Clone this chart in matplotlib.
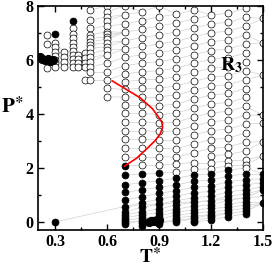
import numpy as np
import matplotlib
matplotlib.use("Agg")
import matplotlib.pyplot as plt

plt.rcParams["font.family"] = ["Liberation Serif", "DejaVu Serif"]
plt.rcParams["font.weight"] = "bold"
plt.rcParams["mathtext.fontset"] = "stix"

# isotherm columns: temperature -> pressures of the open (fluid) and filled points
open_cols = {
    0.25: [6.93, 6.59, 5.69],
    0.30: [6.64, 6.47, 6.31, 6.15, 6.0, 5.88, 5.75],
    0.35: [6.31, 6.12, 5.94, 5.75],
    0.40: [7.17, 6.96, 6.8, 6.64, 6.49, 6.34, 6.19, 6.03, 5.88, 5.73],
    0.43: [6.19, 6.03, 5.88, 5.73],
    0.47: [6.25, 6.06, 5.9, 5.73, 5.26],
    0.50: [7.85, 7.48, 7.17, 6.93, 6.8, 6.68, 6.56, 6.43, 6.25, 6.1, 5.94, 5.75, 5.57, 5.26],
    0.60: [8.0, 7.79, 7.6, 7.46, 7.26, 7.05, 6.95, 6.86, 6.77, 6.64, 6.49, 6.37, 6.19,
           5.88, 5.57, 5.26, 4.95, 4.64],
    0.70: [8.0, 7.67, 7.33, 7.02, 6.71, 6.4, 6.1, 5.79, 5.48, 5.2, 4.91, 4.62, 4.33,
           4.03, 3.71, 3.38, 3.06, 2.75, 2.42],
    0.80: [7.79, 7.46, 7.14, 6.83, 6.5, 6.19, 5.88, 5.57, 5.26, 4.95, 4.64, 4.33, 4.03,
           3.71, 3.38, 3.06, 2.75, 2.42, 2.11],
    0.90: [8.0, 7.6, 7.26, 6.93, 6.59, 6.27, 5.94, 5.6, 5.29, 4.95, 4.64, 4.3, 3.96,
           3.66, 3.35, 3.04, 2.73, 2.42, 2.11],
    1.00: [7.7, 7.37, 7.04, 6.7, 6.37, 6.04, 5.7, 5.37, 5.04, 4.7, 4.37, 4.04, 3.7,
           3.37, 3.04, 2.7, 2.4, 2.15, 1.86],
    1.10: [7.85, 7.52, 7.19, 6.86, 6.53, 6.2, 5.87, 5.54, 5.21, 4.88, 4.55, 4.22, 3.89,
           3.56, 3.23, 2.9, 2.57, 2.2, 1.95],
    1.20: [7.67, 7.34, 7.01, 6.68, 6.35, 6.02, 5.69, 5.36, 5.03, 4.7, 4.37, 4.04, 3.71,
           3.38, 3.05, 2.72, 2.45, 2.2, 1.97],
    1.30: [7.73, 7.4, 7.07, 6.74, 6.41, 6.08, 5.75, 5.42, 5.09, 4.76, 4.43, 4.1, 3.77,
           3.44, 3.11, 2.78, 2.5, 2.25, 2.08],
    1.40: [7.91, 7.58, 7.25, 6.92, 6.59, 6.26, 5.93, 5.6, 5.27, 4.94, 4.61, 4.28, 3.95,
           3.62, 3.29, 2.96, 2.63, 2.3, 2.11, 1.99],
    1.50: [7.54, 6.64, 5.44, 3.96, 3.66, 2.97, 2.44],
}

filled_cols = {
    0.30: [6.96, 0.0],
    0.40: [7.46],
    0.70: [2.07, 1.74, 1.37, 1.09, 0.81, 0.57, 0.38, 0.26, 0.15, 0.06, -0.02, -0.09],
    0.80: [1.78, 1.46, 1.19, 0.94, 0.71, 0.54, 0.38, 0.26, 0.14, 0.05, -0.05, -0.14],
    0.90: [1.8, 1.53, 1.28, 1.06, 0.84, 0.66, 0.48, 0.34, 0.22, 0.1, 0.0, -0.07],
    1.00: [1.62, 1.37, 1.16, 0.96, 0.79, 0.63, 0.48, 0.36, 0.25, 0.15, 0.06, -0.01],
    1.10: [1.74, 1.5, 1.28, 1.08, 0.9, 0.73, 0.58, 0.45, 0.33, 0.22, 0.13, 0.05, 0.0],
    1.20: [1.78, 1.55, 1.33, 1.13, 0.95, 0.79, 0.64, 0.5, 0.38, 0.27, 0.17, 0.07],
    1.30: [1.93, 1.7, 1.49, 1.29, 1.11, 0.95, 0.8, 0.66, 0.54, 0.43, 0.33, 0.2],
    1.40: [1.78, 1.57, 1.38, 1.2, 1.04, 0.89, 0.75, 0.62, 0.5, 0.39, 0.3],
    1.50: [1.78, 1.6, 1.45, 1.3, 1.19, 0.69],
}

# filled cluster at low T near P ~ 6 and near (0.87, 0)
cluster_T = [0.21, 0.225, 0.24, 0.255, 0.27, 0.285, 0.84, 0.855, 0.87, 0.885, 0.9]
cluster_P = [6.1, 6.05, 6.0, 6.02, 5.97, 6.0, 0.0, 0.02, 0.04, 0.06, 0.08]

# faint low-density isochore
low_T = [0.3, 0.7, 0.9, 1.2, 1.5]
low_P = [0.0, 0.57, 0.66, 0.79, 0.95]

# red boundary curve
red_T = [0.63, 0.70, 0.79, 0.86, 0.895, 0.915, 0.92, 0.905, 0.875, 0.835, 0.77, 0.70]
red_P = [5.22, 4.95, 4.6, 4.2, 3.9, 3.7, 3.5, 3.25, 3.0, 2.75, 2.36, 2.07]

fig = plt.figure(figsize=(2.73, 2.70), dpi=100)
ax = fig.add_axes([38 / 273, 40 / 270, 225 / 273, 224 / 270])

# faint isochore lines joining neighbouring isotherms
temps = sorted(set(open_cols) | set(filled_cols))
cols = {t: sorted(open_cols.get(t, []) + filled_cols.get(t, [])) for t in temps}
for t0, t1 in zip(temps[:-1], temps[1:]):
    nxt = np.array(cols[t1])
    for p in cols[t0]:
        q = nxt[np.argmin(np.abs(nxt - (p + 0.1)))]
        if abs(q - p) < 0.35:
            ax.plot([t0, t1], [p, q], color="0.82", lw=0.5, zorder=1)
ax.plot(low_T, low_P, color="0.85", lw=0.6, zorder=1)

ms = 5.0
for t, ps in open_cols.items():
    ax.plot([t] * len(ps), ps, "o", ms=ms, mfc="white", mec="black", mew=0.5,
            ls="none", zorder=2)
for t, ps in filled_cols.items():
    ax.plot([t] * len(ps), ps, "o", ms=ms, mfc="black", mec="black", mew=0.5,
            ls="none", zorder=3)
ax.plot(cluster_T, cluster_P, "o", ms=ms + 0.6, mfc="black", mec="black",
        ls="none", zorder=3)

ax.plot(red_T, red_P, color="red", lw=1.2, zorder=4)

ax.set_xlim(0.2, 1.5)
ax.set_ylim(-0.3, 8)
ax.set_xticks([0.3, 0.6, 0.9, 1.2, 1.5])
ax.set_xticks([0.45, 0.75, 1.05, 1.35], minor=True)
ax.set_yticks([0, 2, 4, 6, 8])
ax.set_yticks([1, 3, 5, 7], minor=True)
ax.set_xticklabels(["0.3", "0.6", "0.9", "1.2", "1.5"])
ax.tick_params(which="both", direction="in", top=True, right=True, width=1.0,
               labelsize=11.5, pad=3)
ax.tick_params(which="major", length=4.5)
ax.tick_params(which="minor", length=2.5)
for s in ax.spines.values():
    s.set_linewidth(1.2)

ax.set_xlabel(r"$\mathbf{T}^{\ast}$", fontsize=14, labelpad=-1)
ax.set_ylabel(r"$\mathbf{P}^{\ast}$", fontsize=15, rotation=0, labelpad=10)
ax.text(0.86, 0.735, r"$\mathbf{R_3}$", transform=ax.transAxes, fontsize=14,
        ha="center", va="center")

fig.savefig("out.png", dpi=100)
